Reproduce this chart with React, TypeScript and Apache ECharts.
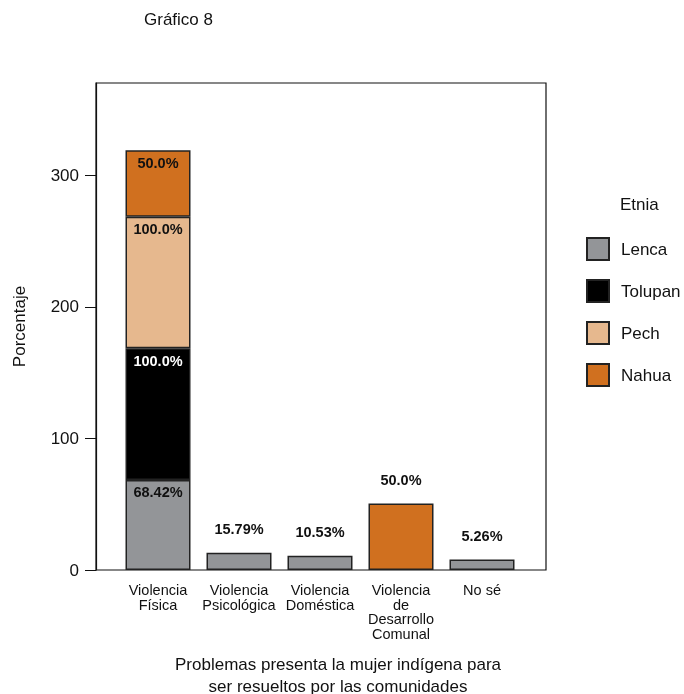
import React, { useEffect, useRef } from "react";
import * as echarts from "echarts";

const categories = [
  "Violencia\nFísica",
  "Violencia\nPsicológica",
  "Violencia\nDoméstica",
  "Violencia\nde\nDesarrollo\nComunal",
  "No sé",
];
const etnias = ["Lenca", "Tolupan", "Pech", "Nahua"];
const lenca = [68.42, 13.2, 10.9, null, 8.0];
const lencaLabels = ["68.42%", "15.79%", "10.53%", "", "5.26%"];
const tolupan = [100, null, null, null, null];
const tolupanLabels = ["100.0%", "", "", "", ""];
const pech = [100, null, null, null, null];
const pechLabels = ["100.0%", "", "", "", ""];
const nahua = [50.5, null, null, 50.5, null];
const nahuaLabels = ["50.0%", "", "", "50.0%", ""];
const yTicks = [0, 100, 200, 300];

const colors = ["#939598", "#000000", "#e6b88e", "#d0701f"];
const FONT = "'Liberation Sans', Arial, Helvetica, sans-serif";

function buildData(values: (number | null)[], labels: string[], color: string) {
  return values.map((v, i) => ({
    value: v === null ? "-" : v,
    label: {
      show: v !== null,
      position: i === 0 ? "insideTop" : "top",
      distance: i === 0 ? 5 : 16,
      formatter: () => labels[i],
      color,
    },
  }));
}

export default function App() {
  const ref = useRef<HTMLDivElement>(null);
  useEffect(() => {
    if (!ref.current) return;
    const chart = echarts.init(ref.current, null, { renderer: "svg" });
    const seriesVals = [lenca, tolupan, pech, nahua];
    const seriesLabels = [lencaLabels, tolupanLabels, pechLabels, nahuaLabels];
    const labelColors = ["#111", "#fff", "#111", "#111"];
    chart.setOption({
      animation: false,
      textStyle: { fontFamily: FONT },
      grid: [
        { left: 117.5, top: 83, width: 405, height: 487 },
        { left: 96, top: 83, width: 450, height: 487, show: true, borderColor: "#111", borderWidth: 1.2, backgroundColor: "transparent" },
      ],
      xAxis: [
        {
          type: "category",
          gridIndex: 0,
          data: categories,
          axisLine: { show: false },
          axisTick: { show: false },
          axisLabel: { fontSize: 14.5, color: "#111", lineHeight: 14.5, margin: 13, interval: 0, fontFamily: FONT },
        },
        { type: "category", gridIndex: 1, data: categories, show: false },
      ],
      yAxis: [
        { type: "value", gridIndex: 0, min: 0, max: 370, show: false },
        {
          type: "value",
          gridIndex: 1,
          min: 0,
          max: 370,
          interval: 100,
          splitLine: { show: false },
          axisLine: { show: true, lineStyle: { color: "#111", width: 1.2 } },
          axisTick: { show: true, length: 11, lineStyle: { color: "#111" }, customValues: yTicks },
          axisLabel: { fontSize: 17, color: "#111", margin: 17, customValues: yTicks, fontFamily: FONT },
          name: "Porcentaje",
          nameLocation: "middle",
          nameGap: 68,
          nameTextStyle: { fontSize: 17, color: "#111", fontFamily: FONT },
        },
      ],
      legend: {
        orient: "vertical",
        left: 586,
        top: 237,
        padding: 0,
        itemWidth: 22,
        itemHeight: 22,
        itemGap: 18,
        icon: "rect",
        data: etnias,
        textStyle: { fontSize: 17, color: "#111", padding: [0, 0, 0, 7], fontFamily: FONT },
      },
      series: etnias.map((name, k) => ({
        name,
        type: "bar",
        stack: "total",
        xAxisIndex: 0,
        yAxisIndex: 0,
        barWidth: 65,
        itemStyle: { color: colors[k], borderColor: "#222", borderWidth: 1.5 },
        label: { fontSize: 14.5, fontWeight: "bold", fontFamily: FONT },
        data: buildData(seriesVals[k], seriesLabels[k], labelColors[k]),
      })),
      graphic: [
        { type: "text", left: 144, top: 11, style: { text: "Gráfico 8", fontSize: 17, fill: "#111", fontFamily: FONT } },
        { type: "text", left: 620, top: 196, style: { text: "Etnia", fontSize: 17, fill: "#111", fontFamily: FONT } },
        {
          type: "text",
          x: 338,
          y: 653,
          style: {
            text: "Problemas presenta la mujer indígena para\nser resueltos por las comunidades",
            fontSize: 17,
            lineHeight: 22,
            align: "center",
            verticalAlign: "top",
            fill: "#111",
            fontFamily: FONT,
          },
        },
      ],
    });
    return () => chart.dispose();
  }, []);
  return <div ref={ref} style={{ position: "fixed", left: 0, top: 0, width: 684, height: 694 }} />;
}
